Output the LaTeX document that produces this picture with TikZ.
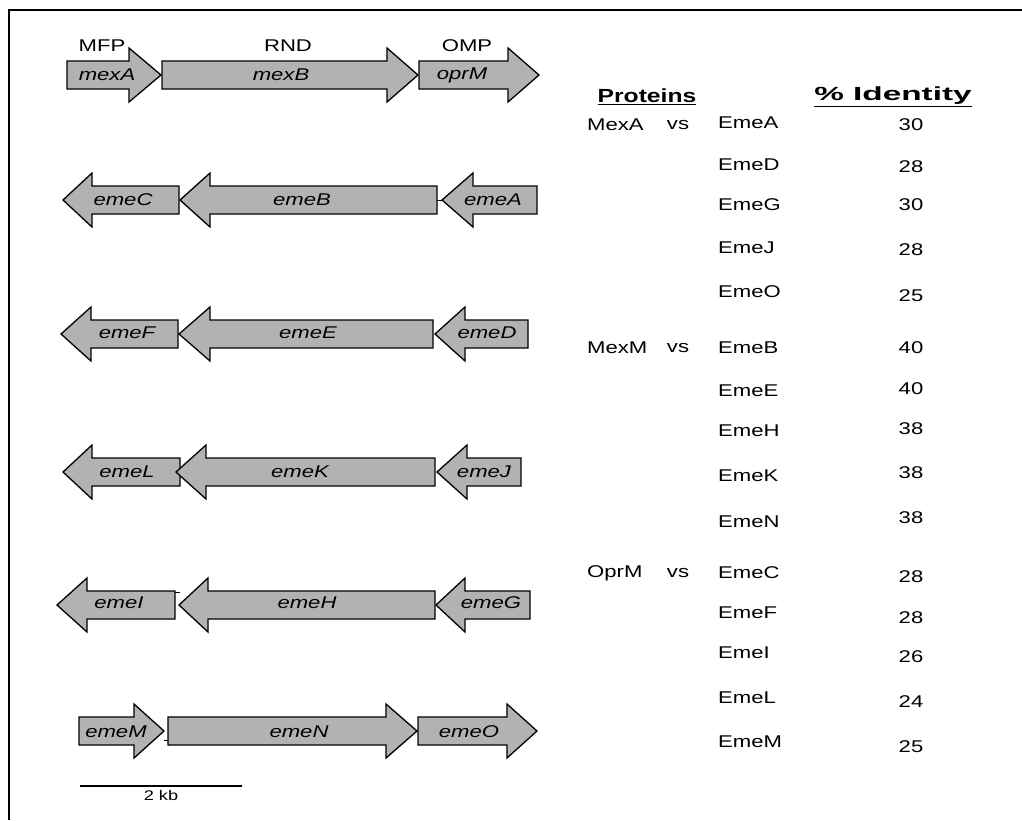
\documentclass[tikz,border=0pt]{standalone}
\usepackage{fontspec}
\setmainfont{Liberation Sans}[FakeStretch=1.3]
\usetikzlibrary{positioning}

% forward gene: body left, head base, tip, row
\newcommand{\fwdgene}[4]{%
  \draw[gene] (#1,#4-14) -- (#2,#4-14) -- (#2,#4-27) -- (#3,#4)
    -- (#2,#4+27) -- (#2,#4+14) -- (#1,#4+14) -- cycle;}
% reverse gene: tip, head base, body right, row
\newcommand{\revgene}[4]{%
  \draw[gene] (#3,#4-14) -- (#2,#4-14) -- (#2,#4-27) -- (#1,#4)
    -- (#2,#4+27) -- (#2,#4+14) -- (#3,#4+14) -- cycle;}

\begin{document}
\begin{tikzpicture}[
  x=1pt, y=-1pt,
  every node/.style={font=\fontsize{17}{20}\selectfont, inner sep=0pt},
  gene/.style={draw=black, fill=black!30, line width=1.3pt},
  glab/.style={font=\fontsize{17}{20}\selectfont\itshape},
  head/.style={font=\fontsize{19}{22}\selectfont\bfseries},
  link/.style={line width=1pt},
  bar/.style={line width=1.6pt}]

\useasboundingbox (0,0) rectangle (1022,820);
\draw[line width=1.5pt] (9,820) -- (9,10) -- (1022,10);

% ---------------------------- gene maps -----------------------------
% mex operon
\fwdgene{67}{129}{161}{75}
\fwdgene{162}{387}{418}{75}
\fwdgene{419}{508}{539}{75}
\node (mfp) at (102,46) {MFP};
\node (rnd) at (288,46) {RND};
\node (omp) at (467,46) {OMP};
\node[glab] (mexA) at (107,75) {mexA};
\node[glab] (mexB) at (281,75) {mexB};
\node[glab] (oprM) at (462,75) {oprM};

% emeCBA
\revgene{63}{92}{179}{200}
\revgene{180}{210}{437}{200}
\revgene{442}{473}{537}{200}
\draw[link] (437,200) -- (442,200);
\node[glab] (emeC) at (123,200) {emeC};
\node[glab] (emeB) at (302,200) {emeB};
\node[glab] (emeA) at (493,200) {emeA};

% emeFED
\revgene{61}{91}{178}{334}
\revgene{179}{210}{433}{334}
\revgene{435}{465}{528}{334}
\node[glab] (emeF) at (127,333) {emeF};
\node[glab] (emeE) at (308,333) {emeE};
\node[glab] (emeD) at (487,333) {emeD};

% emeLKJ
\revgene{63}{92}{180}{472}
\revgene{176}{206}{435}{472}
\revgene{437}{467}{521}{472}
\node[glab] (emeL) at (127,472) {emeL};
\node[glab] (emeK) at (300,472) {emeK};
\node[glab] (emeJ) at (484,472) {emeJ};

% emeIHG
\revgene{57}{87}{175}{605}
\revgene{179}{208}{435}{605}
\revgene{436}{465}{530}{605}
\draw[link] (175,592) -- (180,592);
\node[glab] (emeI) at (119,603) {emeI};
\node[glab] (emeH) at (307,603) {emeH};
\node[glab] (emeG) at (491,603) {emeG};

% emeMNO
\fwdgene{79}{134}{164}{731}
\fwdgene{168}{386}{417}{731}
\fwdgene{418}{507}{537}{731}
\draw[link] (164,740) -- (168,740);
\node[glab] (emeM) at (116,732) {emeM};
\node[glab] (emeN) at (299,732) {emeN};
\node[glab] (emeO) at (469,732) {emeO};

% scale bar
\coordinate (barL) at (80,786);
\coordinate (barR) at (242,786);
\draw[bar] (barL) -- (barR)
  node[midway, below=4pt, font=\fontsize{14}{16}\selectfont] (kb) {2 kb};

% ---------------------------- identities ----------------------------
\node[head] (prot)  at (647,97) {\underline{Proteins}};
\node[head] (ident) at (893,97) {\scalebox{1.35}[1]{\underline{\% Identity}}};

\node[anchor=west] (qMexA) at (587,125) {MexA};
\node (vsA) at (678,125) {vs};
\node[anchor=west] (qMexM) at (587,348) {MexM};
\node (vsM) at (678,348) {vs};
\node[anchor=west] (qOprM) at (587,573) {OprM};
\node (vsO) at (678,573) {vs};

\foreach \p/\yp/\v/\yv in {EmeA/123/30/125, EmeD/165/28/167, EmeG/205/30/205,
    EmeJ/248/28/250, EmeO/292/25/296, EmeB/348/40/348, EmeE/391/40/389,
    EmeH/431/38/429, EmeK/476/38/473, EmeN/522/38/518, EmeC/573/28/577,
    EmeF/613/28/618, EmeI/653/26/657, EmeL/698/24/702, EmeM/742/25/747}
{
  \node[anchor=west] (\p) at (718,\yp) {\p};
  \node (id\p) at (911,\yv) {\v};
}

\end{tikzpicture}
\end{document}
